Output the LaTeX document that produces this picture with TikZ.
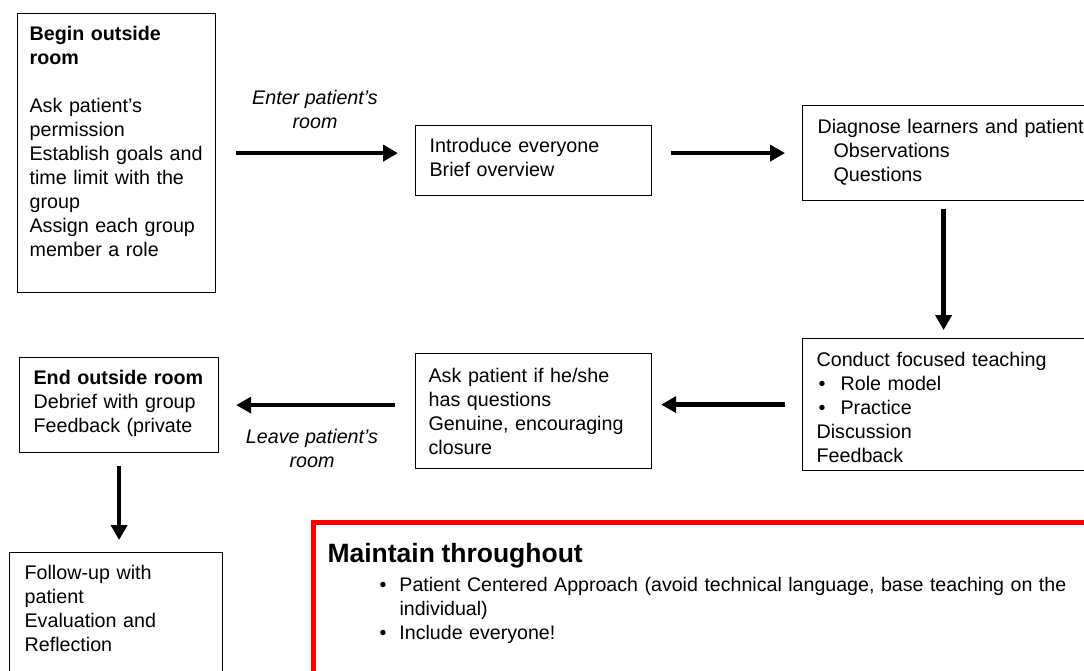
\documentclass[tikz,border=0pt]{standalone}
\usepackage{fontspec}
\setmainfont{Liberation Sans}
\usetikzlibrary{arrows.meta}
\tikzset{>=stealth}
\tikzset{
  box/.style={draw, line width=1.2pt, anchor=north west, align=left, inner xsep=14pt, inner ysep=0pt,
    text height=27pt, font=\fontsize{19.7}{24}\selectfont},
  flow/.style={-{Triangle[length=15pt,width=16pt]}, line width=4.5pt},
  lbl/.style={align=center, inner sep=0pt, font=\fontsize{19.7}{24}\selectfont\itshape},
  keep/.style={draw=red, line width=5pt, anchor=north west, align=left, inner xsep=14pt, inner ysep=0pt,
    font=\fontsize{19.6}{24}\selectfont},
}

\begin{document}
\begin{tikzpicture}[x=1pt, y=-1pt]
\useasboundingbox (0,0) rectangle (1084,670);
\clip (0,0) rectangle (1084,670);
\node[box, inner xsep=12pt, text width=174pt, text depth=252pt] (begin) at (17,13)
  {\textbf{Begin outside}\\\textbf{room}\\[24pt]Ask patient's\\permission\\Establish goals and\\time limit with the\\group\\Assign each group\\member a role};
\node[box, text width=208pt, text depth=43pt] (intro) at (415,125)
  {Introduce everyone\\Brief overview};
\node[box, inner xsep=15pt, text width=270pt, text height=28pt, text depth=67pt] (diag) at (802,105)
  {Diagnose learners and patient\\\hspace*{16pt}Observations\\\hspace*{16pt}Questions};
\node[box, inner xsep=14pt, text width=272pt, text height=28pt, text depth=104pt] (teach) at (802,338)
  {Conduct focused teaching\\\hspace*{2pt}\makebox[22pt][l]{\textbullet}Role model\\\hspace*{2pt}\makebox[22pt][l]{\textbullet}Practice\\Discussion\\Feedback};
\node[box, inner xsep=13pt, text width=210pt, text height=29pt, text depth=86pt] (ask) at (415,353)
  {Ask patient if he/she\\has questions\\Genuine, encouraging\\closure};
\node[box, text width=171pt, text depth=68pt] (end) at (19,357)
  {\textbf{End outside room}\\Debrief with group\\Feedback (private};
\node[box, inner xsep=15pt, text width=183pt, text depth=130pt] (follow) at (9,552)
  {Follow-up with\\patient\\Evaluation and\\Reflection};
\node[keep, text width=771pt, text height=40pt, text depth=200pt] (maintain) at (311,520)
  {{\fontsize{26.5}{24}\selectfont\bfseries Maintain throughout}\\[5pt]
   \hspace*{52pt}\makebox[20pt][l]{\textbullet}Patient Centered Approach (avoid technical language, base teaching on the\\
   \hspace*{72pt}individual)\\
   \hspace*{52pt}\makebox[20pt][l]{\textbullet}Include everyone!};
\node[lbl] (enter) at (315,109) {Enter patient's\\room};
\node[lbl] (leave) at (312,448) {Leave patient's\\room};
\draw[flow, shorten <=20pt, shorten >=17pt] (begin.east) -- (begin.east -| intro.west);
\draw[flow, shorten <=19pt, shorten >=17pt] (diag.west -| intro.east) -- (diag.west);
\draw[flow, shorten <=8pt, shorten >=8pt] ([xshift=-9pt]diag.south) -- ([xshift=-9pt]diag.south |- teach.north);
\draw[flow, shorten <=17pt, shorten >=9pt] (teach.west) -- (teach.west -| ask.east);
\draw[flow, shorten <=20pt, shorten >=17pt] (end.east -| ask.west) -- (end.east);
\draw[flow, shorten <=13pt, shorten >=12pt] (end.south) -- (end.south |- follow.north);
\end{tikzpicture}
\end{document}
